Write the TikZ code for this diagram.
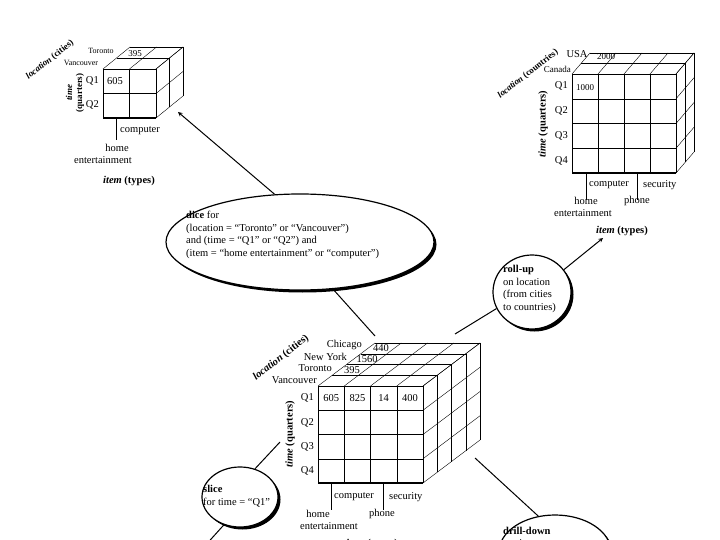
\documentclass[tikz,border=0pt]{standalone}
\usepackage{fontspec}
\setmainfont{Liberation Serif}
\usetikzlibrary{arrows,shapes,positioning}
\tikzset{
	lbl/.style={inner sep=0pt,font=\fontsize{10.5}{12.5}\selectfont},
	sml/.style={inner sep=0pt,font=\fontsize{9}{10}\selectfont},
	op/.style={draw,ellipse,line width=1.2pt,fill=white,inner sep=0pt},
	opshadow/.style={ellipse,fill=black,inner sep=0pt},
	link/.style={line width=1pt},
	flow/.style={line width=1pt,-stealth}
}
% #1 x, #2 y, #3 cols, #4 rows, #5 col width, #6 row height, #7 layers, #8 dx, #9 dy
\newcommand{\datacube}[9]{%
	\foreach \i in {0,...,#3} {\draw ({#1+\i*#5},#2) -- ++(0,{#4*#6});
		\draw ({#1+\i*#5},#2) -- ++({#7*#8},{-#7*#9});}
	\foreach \j in {0,...,#4} {\draw (#1,{#2+\j*#6}) -- ++({#3*#5},0);
		\draw ({#1+#3*#5},{#2+\j*#6}) -- ++({#7*#8},{-#7*#9});}
	\foreach \l in {1,...,#7} {\draw ({#1+\l*#8},{#2-\l*#9}) -- ++({#3*#5},0);
		\draw ({#1+#3*#5+\l*#8},{#2-\l*#9}) -- ++(0,{#4*#6});}
	\draw[line width=1.4pt] (#1,{#2+#4*#6}) -- ++({#3*#5},0);
}
\newcommand{\opnode}[5]{% name, x, y, width, height
	\node[opshadow,minimum width=#4pt,minimum height=#5pt] at (#2+2.5,#3+2.5) {};
	\node[op,minimum width=#4pt,minimum height=#5pt] (#1) at (#2,#3) {};
}
\begin{document}
\begin{tikzpicture}[x=1pt,y=-1pt]
\useasboundingbox[clip] (0,0) rectangle (720,540);

% central cube
\datacube{318}{386}{4}{4}{26.25}{24.25}{4}{14.25}{10.75}
\foreach \t [count=\k] in {Q1,Q2,Q3,Q4}
	\node[lbl,anchor=east] (mq\k) at (314,{386+(\k-0.5)*24.25}) {\t};
\foreach \v [count=\k] in {605,825,14,400}
	\node[lbl] (mv\k) at ({318+(\k-0.5)*26.25},398) {\v};
\node[lbl,anchor=east] (mvan) at (317,380) {Vancouver};
\node[lbl,anchor=east] (mtor) at (332,368) {Toronto};
\node[lbl,anchor=east] (mny) at (347,357) {New York};
\node[lbl,anchor=east] (mchi) at (362,345) {Chicago};
\node[lbl] (m395) at (352,370) {395};
\node[lbl] (m1560) at (367,359) {1560};
\node[lbl] (m440) at (381,348) {440};
\node[lbl,rotate=38] (mloc) at (281,358) {\textbf{\textit{location}} \textbf{(cities)}};
\node[lbl,rotate=90] (mtime) at (290,434) {\textbf{\textit{time}} \textbf{(quarters)}};
\draw (331,483) -- (331,510);
\draw (383,483) -- (383,510);
\node[lbl,anchor=west] (mcomp) at (334,497) {computer};
\node[lbl,anchor=west] (msec) at (389,497) {security};
\node[lbl] (mhome) at (318,514) {home};
\node[lbl] (mphone) at (382,514) {phone};
\node[lbl] (ment) at (329,526) {entertainment};
\node[lbl] (mitem) at (372,544) {\textbf{\textit{item}} \textbf{(types)}};

% diced cube
\datacube{103}{69}{2}{2}{26.5}{24.5}{2}{13.5}{11}
\node[lbl,anchor=east] (dq1) at (99,81) {Q1};
\node[lbl,anchor=east] (dq2) at (99,105) {Q2};
\node[lbl] (d605) at (115,81) {605};
\node[sml] (d395) at (135,54) {395};
\node[sml,font=\fontsize{8}{9}\selectfont] (dtor) at (101,51) {Toronto};
\node[sml,font=\fontsize{8}{9}\selectfont] (dvan) at (81,63) {Vancouver};
\node[sml,rotate=38] (dloc) at (50,60) {\textbf{\textit{location}} \textbf{(cities)}};
\node[sml,rotate=90,align=center] (dtime) at (75,93) {\textbf{\textit{time}}\\\textbf{(quarters)}};
\draw (116,118) -- (116,140);
\node[lbl,anchor=west] (dcomp) at (120,131) {computer};
\node[lbl] (dhome) at (117,148) {home};
\node[lbl] (dent) at (103,160) {entertainment};
\node[lbl] (ditem) at (129,181) {\textbf{\textit{item}} \textbf{(types)}};

% rolled-up cube
\datacube{572}{74}{4}{4}{26}{24.75}{2}{9}{10.5}
\draw[line width=1.4pt] (572,123.5) -- (676,123.5);
\foreach \t [count=\k] in {Q1,Q2,Q3,Q4}
	\node[lbl,anchor=east] (rq\k) at (568,{74+(\k-0.5)*24.75}) {\t};
\node[sml] (r1000) at (585,88) {1000};
\node[sml] (r2000) at (606,57) {2000};
\node[lbl] (rusa) at (577,54) {USA};
\node[sml,anchor=east] (rcan) at (571,69) {Canada};
\node[sml,rotate=38] (rloc) at (528,74) {\textbf{\textit{location}} \textbf{(countries)}};
\node[lbl,rotate=90] (rtime) at (543,124) {\textbf{\textit{time}} \textbf{(quarters)}};
\draw (586,173) -- (586,200);
\draw (637,173) -- (637,200);
\node[lbl,anchor=west] (rcomp) at (589,185) {computer};
\node[lbl,anchor=west] (rsec) at (643,185) {security};
\node[lbl] (rhome) at (586,201) {home};
\node[lbl] (rphone) at (637,201) {phone};
\node[lbl] (rent) at (583,213) {entertainment};
\node[lbl] (ritem) at (622,231) {\textbf{\textit{item}} \textbf{(types)}};

% operations
\opnode{dice}{300}{242}{268}{96}
\node[lbl,anchor=west,align=left] (dicetxt) at (186,235) {\textbf{dice} for\\(location = “Toronto” or “Vancouver”)\\and (time = “Q1” or “Q2”) and\\(item = “home entertainment” or “computer”)};
\opnode{roll}{532}{292}{78}{74}
\node[lbl,anchor=west,align=left] (rolltxt) at (503,289) {\textbf{roll-up}\\on location\\(from cities\\to countries)};
\opnode{slice}{240}{497}{76}{60}
\node[lbl,anchor=west,align=left] (slicetxt) at (203,496) {\textbf{slice}\\for time = “Q1”};
\opnode{drill}{555}{552}{112}{74}
\node[lbl,anchor=west,align=left] (drilltxt) at (503,537) {\textbf{drill-down}\\on time};

\coordinate (cubetop) at (375,336);
\coordinate (cuberight) at (455,334);
\coordinate (cubeleft) at (280,442);
\coordinate (cubebottom) at (475,458);
\coordinate (dicedcube) at (178,112);
\coordinate (rolledcube) at (603,238);
\coordinate (slicedcube) at (203,548);

\draw[link] (cubetop) -- (dice.-55);
\draw[flow] (dice.118) -- (dicedcube);
\draw[link] (cuberight) -- (roll.205);
\draw[flow] (roll.35) -- (rolledcube);
\draw[link] (cubeleft) -- (slice.62);
\draw[flow] (slice.-120) -- (slicedcube);
\draw[link] (cubebottom) -- (drill.115);
\end{tikzpicture}
\end{document}
